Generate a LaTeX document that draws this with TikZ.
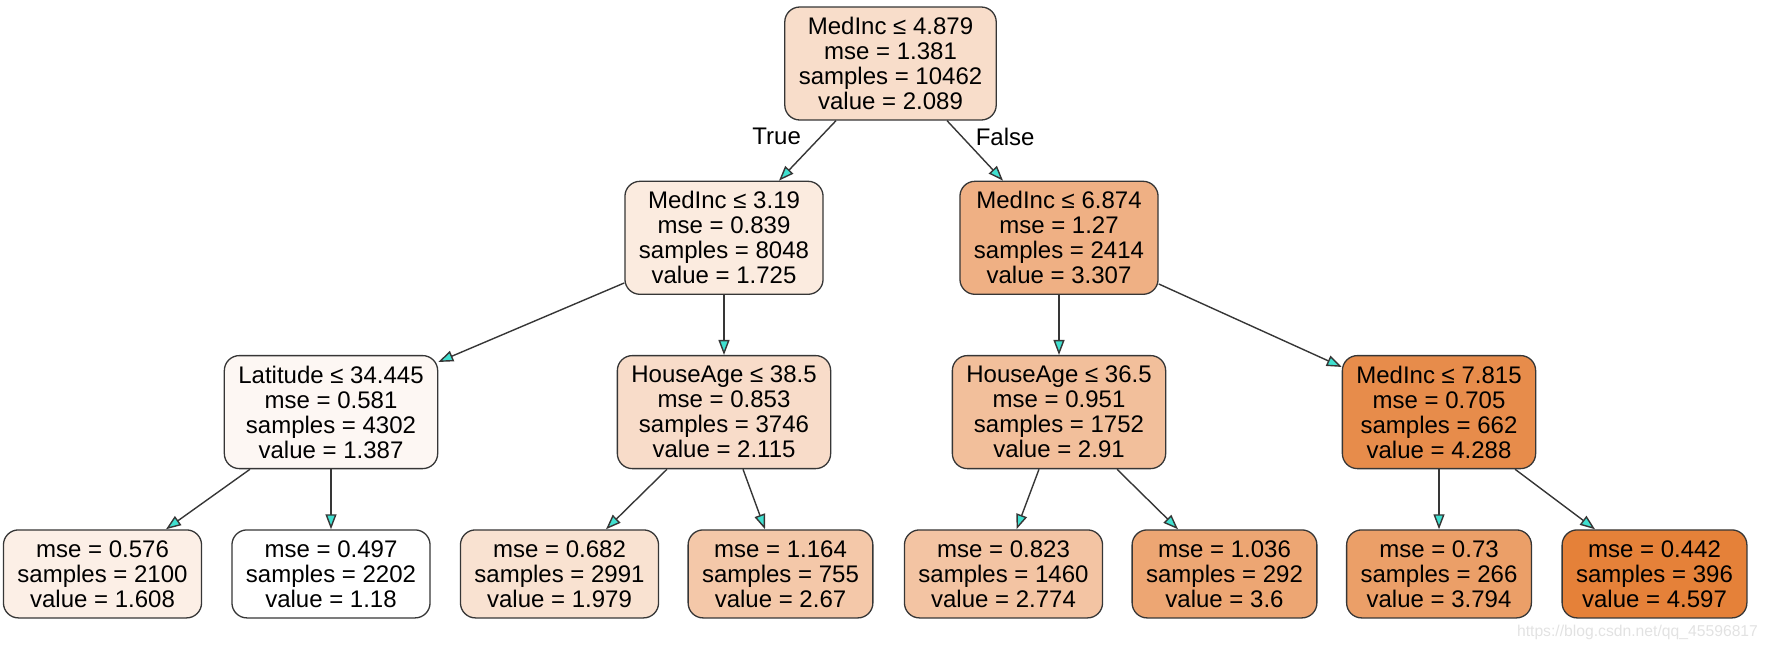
\documentclass[tikz,border=0pt]{standalone}
\usepackage{fontspec}
\setmainfont{Liberation Sans}
\usetikzlibrary{arrows.meta,positioning}
\definecolor{heat}{HTML}{E58139}
\definecolor{lineclr}{HTML}{363636}
\definecolor{tipclr}{HTML}{40E0D0}
\definecolor{wmgray}{HTML}{E2E2E2}
\tikzset{
  blk/.style={draw=lineclr, line width=1.3pt, rounded corners=15pt, align=center, font=\fontsize{24}{25}\selectfont, minimum height=113pt, inner xsep=14pt, fill=heat!#1!white},
  blk/.default=0,
  leaf/.style={blk=#1, minimum height=88pt},
  arr/.style={-{Triangle[length=15pt, width=11pt, fill=tipclr]}, draw=lineclr, line width=1.4pt},
  lbl/.style={inner sep=0pt, font=\fontsize{24}{25}\selectfont},
}

\begin{document}
\begin{tikzpicture}[x=1pt, y=-1pt, node distance=60pt]
  \useasboundingbox (0,0) rectangle (1769,649);
  % splits
  \node[blk=26.6] (root) at (890.5,63.5) {MedInc ≤ 4.879\\mse = 1.381\\samples = 10462\\value = 2.089};
  \node[blk=16.0, below=of root, xshift=-166.5pt] (l2l) {MedInc ≤ 3.19\\mse = 0.839\\samples = 8048\\value = 1.725};
  \node[blk=62.3, below=of root, xshift=168.5pt] (l2r) {MedInc ≤ 6.874\\mse = 1.27\\samples = 2414\\value = 3.307};
  \node[blk=6.1, below=of l2l, xshift=-393pt] (lat) {Latitude ≤ 34.445\\mse = 0.581\\samples = 4302\\value = 1.387};
  \node[blk=27.4, below=of l2l] (ha1) {HouseAge ≤ 38.5\\mse = 0.853\\samples = 3746\\value = 2.115};
  \node[blk=50.6, below=of l2r] (ha2) {HouseAge ≤ 36.5\\mse = 0.951\\samples = 1752\\value = 2.91};
  \node[blk=91.0, below=of l2r, xshift=380pt] (mi3) {MedInc ≤ 7.815\\mse = 0.705\\samples = 662\\value = 4.288};
  % leaves
  \node[leaf=12.5, below=of lat, xshift=-228.5pt] (lf1) {mse = 0.576\\samples = 2100\\value = 1.608};
  \node[leaf=0, below=of lat] (lf2) {mse = 0.497\\samples = 2202\\value = 1.18};
  \node[leaf=23.4, below=of ha1, xshift=-164.5pt] (lf3) {mse = 0.682\\samples = 2991\\value = 1.979};
  \node[leaf=43.6, below=of ha1, xshift=56.5pt] (lf4) {mse = 1.164\\samples = 755\\value = 2.67};
  \node[leaf=46.7, below=of ha2, xshift=-55.5pt] (lf5) {mse = 0.823\\samples = 1460\\value = 2.774};
  \node[leaf=70.8, below=of ha2, xshift=165.5pt] (lf6) {mse = 1.036\\samples = 292\\value = 3.6};
  \node[leaf=76.5, below=of mi3] (lf7) {mse = 0.73\\samples = 266\\value = 3.794};
  \node[leaf=100, below=of mi3, xshift=215.5pt] (lf8) {mse = 0.442\\samples = 396\\value = 4.597};
  % edges
  \draw[arr] ([xshift=-54.5pt]root.south) -- node[lbl, pos=0.27, left=19pt] {True} ([xshift=55pt]l2l.north);
  \draw[arr] ([xshift=56.5pt]root.south) -- node[lbl, pos=0.27, right=13pt] {False} ([xshift=-56pt]l2r.north);
  \draw[arr] ([yshift=12pt]l2l.south west) -- ([yshift=-7pt]lat.north east);
  \draw[arr] (l2l) -- (ha1);
  \draw[arr] (l2r) -- (ha2);
  \draw[arr] ([yshift=11pt]l2r.south east) -- ([yshift=-12pt]mi3.north west);
  \draw[arr] ([xshift=-81pt]lat.south) -- ([xshift=63.5pt]lf1.north);
  \draw[arr] (lat) -- (lf2);
  \draw[arr] ([xshift=-57pt]ha1.south) -- ([xshift=46.5pt]lf3.north);
  \draw[arr] ([xshift=19pt]ha1.south) -- ([xshift=-15.5pt]lf4.north);
  \draw[arr] ([xshift=-20pt]ha2.south) -- ([xshift=13pt]lf5.north);
  \draw[arr] ([xshift=58pt]ha2.south) -- ([xshift=-46.5pt]lf6.north);
  \draw[arr] (mi3) -- (lf7);
  \draw[arr] ([xshift=76pt]mi3.south) -- ([xshift=-59.5pt]lf8.north);
  \node[text=wmgray, font=\fontsize{15.7}{18}\selectfont, inner sep=0pt] (wm) at (1637.5,632) {https://blog.csdn.net/qq\_45596817};
\end{tikzpicture}
\end{document}
